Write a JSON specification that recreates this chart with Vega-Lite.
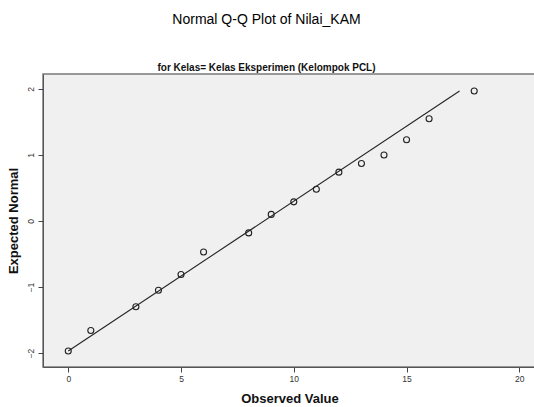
{
  "$schema": "https://vega.github.io/schema/vega-lite/v6.json",
  "autosize": "none",
  "width": 493,
  "height": 293,
  "padding": {"left": 43, "top": 74, "right": 0, "bottom": 40},
  "background": "white",
  "title": {
    "text": "Normal Q-Q Plot of Nilai_KAM",
    "subtitle": "for Kelas= Kelas Eksperimen (Kelompok PCL)",
    "anchor": "middle",
    "dx": -23,
    "offset": 1,
    "font": "Liberation Sans",
    "fontSize": 14,
    "fontWeight": "normal",
    "color": "#000",
    "subtitleFont": "Liberation Sans",
    "subtitleFontSize": 10,
    "subtitleFontWeight": "bold",
    "subtitleColor": "#111",
    "subtitlePadding": 36
  },
  "config": {
    "view": {"fill": "#f0f0f0", "stroke": "#7a7a7a", "strokeWidth": 1.5},
    "axis": {
      "grid": false,
      "domainColor": "#555",
      "tickColor": "#444",
      "tickSize": 5,
      "labelFont": "Liberation Sans",
      "labelFontSize": 8.5,
      "labelColor": "#333",
      "titleFont": "Liberation Sans",
      "titleFontSize": 13,
      "titleFontWeight": "bold",
      "titleColor": "#111"
    }
  },
  "datasets": {
    "points": [
      {"observed": 0, "expected": -1.97},
      {"observed": 1, "expected": -1.66},
      {"observed": 3, "expected": -1.30},
      {"observed": 4, "expected": -1.05},
      {"observed": 5, "expected": -0.81},
      {"observed": 6, "expected": -0.47},
      {"observed": 8, "expected": -0.18},
      {"observed": 9, "expected": 0.10},
      {"observed": 10, "expected": 0.29},
      {"observed": 11, "expected": 0.48},
      {"observed": 12, "expected": 0.74},
      {"observed": 13, "expected": 0.87},
      {"observed": 14, "expected": 1.00},
      {"observed": 15, "expected": 1.23},
      {"observed": 16, "expected": 1.55},
      {"observed": 18, "expected": 1.97}
    ],
    "line": [
      {"observed": 0, "expected": -1.97},
      {"observed": 17.35, "expected": 1.97}
    ]
  },
  "layer": [
    {
      "data": {"name": "line"},
      "mark": {"type": "line", "color": "#222", "strokeWidth": 1.1},
      "encoding": {
        "x": {"field": "observed", "type": "quantitative"},
        "y": {"field": "expected", "type": "quantitative"}
      }
    },
    {
      "data": {"name": "points"},
      "mark": {"type": "point", "shape": "circle", "filled": false, "stroke": "#222", "strokeWidth": 1.1, "size": 36, "opacity": 1},
      "encoding": {
        "x": {
          "field": "observed", "type": "quantitative",
          "title": "Observed Value",
          "scale": {"domain": [-1.12, 20.74], "nice": false, "zero": false},
          "axis": {"values": [0, 5, 10, 15, 20], "format": "d", "labelPadding": 2, "titlePadding": 10}
        },
        "y": {
          "field": "expected", "type": "quantitative",
          "title": "Expected Normal",
          "scale": {"domain": [-2.212, 2.227], "nice": false, "zero": false},
          "axis": {"values": [-2, -1, 0, 1, 2], "format": "d", "labelAngle": -90, "labelAlign": "center", "labelBaseline": "bottom", "labelPadding": 3, "titlePadding": 6}
        }
      }
    }
  ]
}
